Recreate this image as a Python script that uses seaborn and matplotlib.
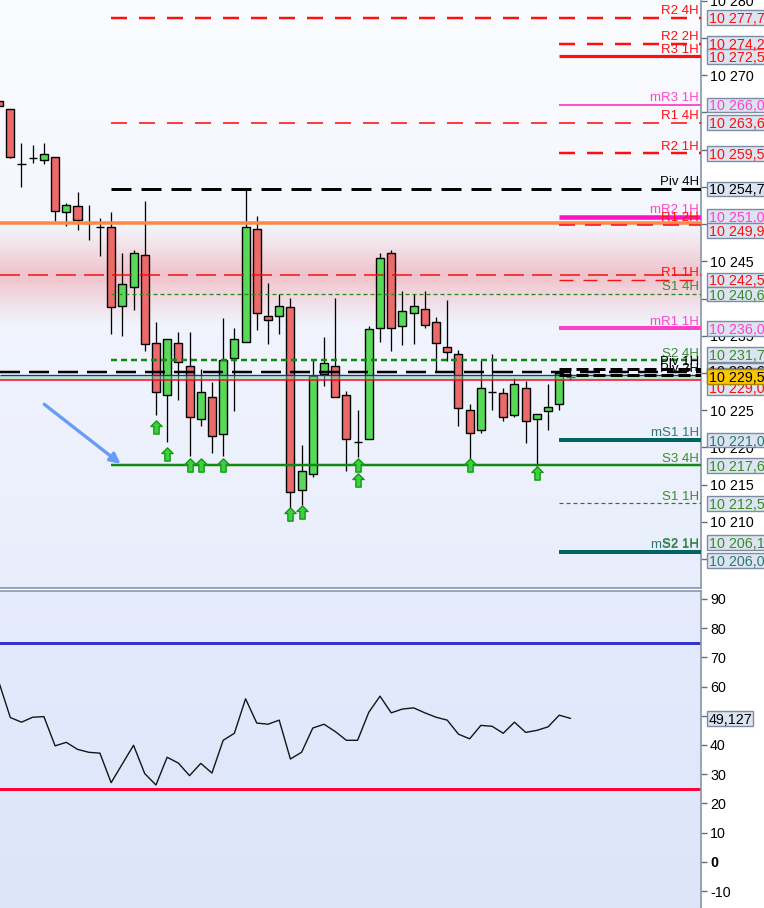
import numpy as np
import pandas as pd
import matplotlib
matplotlib.use("Agg")
import matplotlib.pyplot as plt
import matplotlib.transforms as mtransforms
from matplotlib.patches import Rectangle
from matplotlib.path import Path
import seaborn as sns

# ---------------- data ----------------
idx = list(range(-1, 51))
opens = [10266.5, 10265.5, 10258.0, 10258.9, 10258.6, 10259.0, 10251.6, 10252.4, 10250.1, 10249.6,
         10249.6, 10239.0, 10241.5, 10245.8, 10234.0, 10227.0, 10234.0, 10231.0, 10223.8, 10226.8,
         10221.8, 10232.0, 10234.2, 10249.3, 10237.7, 10237.7, 10238.8, 10214.3, 10216.5, 10229.8,
         10231.0, 10227.0, 10220.8, 10221.2, 10236.0, 10246.1, 10236.3, 10238.0, 10238.6, 10236.8,
         10233.5, 10232.5, 10225.0, 10222.4, 10227.5, 10227.3, 10224.3, 10228.0, 10223.8, 10224.9,
         10225.8, 10229.5]
highs = [10266.5, 10265.5, 10260.9, 10260.6, 10260.9, 10259.0, 10252.8, 10254.3, 10252.6, 10250.8,
         10251.6, 10246.1, 10246.5, 10253.1, 10236.8, 10234.5, 10235.5, 10235.5, 10230.5, 10228.8,
         10237.4, 10236.0, 10254.7, 10251.1, 10242.1, 10240.6, 10240.1, 10220.3, 10231.7, 10234.8,
         10240.1, 10227.6, 10225.0, 10236.3, 10246.1, 10246.5, 10241.0, 10240.6, 10241.0, 10237.5,
         10239.8, 10233.1, 10225.8, 10231.7, 10232.5, 10228.0, 10229.3, 10228.9, 10224.5, 10228.5,
         10230.1, 10230.7]
lows = [10265.8, 10258.9, 10255.0, 10258.2, 10258.0, 10250.4, 10249.8, 10249.2, 10247.9, 10245.7,
        10235.3, 10235.0, 10238.5, 10233.0, 10224.4, 10220.8, 10226.4, 10218.9, 10222.9, 10219.3,
        10218.9, 10224.9, 10234.2, 10235.8, 10233.9, 10235.3, 10211.2, 10212.3, 10216.0, 10228.3,
        10226.8, 10216.9, 10218.7, 10221.2, 10234.2, 10233.0, 10233.8, 10233.9, 10236.0, 10230.1,
        10231.6, 10222.9, 10217.9, 10222.0, 10225.0, 10223.5, 10224.1, 10220.6, 10217.3, 10222.4,
        10225.0, 10229.1]
closes = [10265.8, 10259.0, 10258.0, 10258.8, 10259.4, 10251.8, 10252.5, 10250.5, 10250.1, 10249.6,
          10238.8, 10242.0, 10246.1, 10233.9, 10227.5, 10234.5, 10231.5, 10224.1, 10227.5, 10221.5,
          10231.8, 10234.5, 10249.6, 10238.0, 10237.1, 10239.0, 10214.0, 10216.9, 10229.6, 10231.3,
          10226.8, 10221.2, 10220.8, 10235.9, 10245.5, 10236.0, 10238.3, 10239.0, 10236.5, 10234.0,
          10232.8, 10225.3, 10222.0, 10228.0, 10227.5, 10224.1, 10228.5, 10223.5, 10224.5, 10225.5,
          10230.0, 10229.5]
rsi = [61.3, 49.4, 47.8, 49.5, 49.7, 39.7, 40.9, 38.5, 37.5, 37.2,
       27.1, 33.5, 39.9, 30.2, 26.3, 35.8, 33.8, 29.5, 33.7, 30.4,
       41.6, 44.0, 55.8, 47.5, 47.1, 48.5, 35.2, 37.5, 45.8, 47.1,
       44.6, 41.6, 41.6, 51.2, 56.7, 51.0, 52.3, 52.7, 51.0, 49.5,
       48.5, 43.7, 42.1, 46.7, 46.4, 44.0, 47.8, 44.3, 45.0, 46.2,
       50.2, 49.1]
rsi_last = 49.127

level_names = ['R2 4H', 'R2 2H', 'R3 1H', 'mR3 1H', 'R1 4H', 'R2 1H', 'Piv 4H', 'mR2 1H',
               'R1 2H', 'R1 1H', 'S1 4H', 'mR1 1H', 'S2 4H', 'Piv 1H', 'Piv 2H',
               'mS1 1H', 'S3 4H', 'S1 1H', 'S2 1H', 'mS2 1H']
level_values = [10277.7, 10274.2, 10272.5, 10266.0, 10263.6, 10259.5, 10254.7, 10251.0,
                10249.9, 10242.5, 10240.6, 10236.0, 10231.7, 10230.6, 10229.7,
                10221.0, 10217.6, 10212.5, 10206.1, 10206.0]

# full width lines: resistance, zone middle, daily pivot, bid, ask
wide_values = [10250.1, 10243.1, 10230.2, 10229.7, 10229.0]
last_price = 10229.5
ask_price = 10229.0

signal_idx = [13, 14, 16, 17, 19, 25, 26, 31, 31, 41, 47]
signal_price = [10222.7, 10219.1, 10217.6, 10217.6, 10217.6, 10211.1, 10211.3,
                10217.6, 10215.7, 10217.6, 10216.6]

arrow_start = (3.03, 10225.8)
arrow_end = (9.85, 10217.8)

zone_top, zone_mid, zone_bottom = 10249.9, 10243.1, 10236.0

price_ticks = list(range(10205, 10281, 5))
covered_ticks = [10275, 10265, 10260, 10255, 10250, 10240, 10230, 10205]
rsi_ticks = list(range(-10, 91, 10))
rsi_covered = [50]

# ---------------- styling ----------------
sns.set_theme(style="white")
plt.rcParams['font.family'] = ['Liberation Sans', 'DejaVu Sans']
plt.rcParams['lines.scale_dashes'] = False

PT = 0.72  # points per pixel at dpi 100
RED, MAG, TEAL, GRN = '#ff1010', '#ff40c8', '#006464', '#128a12'

line_style = {
    'R2 4H': (RED, 2.5, (16, 12)), 'R2 2H': (RED, 2.5, (16, 12)), 'R3 1H': (RED, 3.2, None),
    'mR3 1H': (MAG, 1.8, None), 'R1 4H': (RED, 1.6, (16, 12)), 'R2 1H': (RED, 2.5, (16, 12)),
    'Piv 4H': ('black', 3, (20, 10)), 'mR2 1H': ('#ff10c0', 4.5, None),
    'R1 2H': (RED, 1.6, (16, 10)), 'R1 1H': (RED, 1.4, (14, 10)),
    'S1 4H': ('#2a8a1a', 1.3, (4, 3)), 'mR1 1H': (MAG, 4, None), 'S2 4H': ('#118a11', 2.5, (6, 4)),
    'Piv 1H': ('black', 3, (12, 5)), 'Piv 2H': ('black', 3, (12, 5)),
    'mS1 1H': (TEAL, 4, None), 'S3 4H': (GRN, 2.5, None), 'S1 1H': (GRN, 1.2, (4, 3)),
    'S2 1H': (GRN, 2, None), 'mS2 1H': (TEAL, 4, None),
}
wide_style = [('#ff8844', 3.5, None), ('#ee1111', 1.5, (20, 8)), ('black', 2.5, (20, 9)),
              ('#2222dd', 1.3, None), ('#ff0030', 1.5, None)]
# vertical nudges (pixels, + = down) of price boxes that the platform stacks apart
box_shift = {'R1 2H': 5.5, 'S2 4H': -6, 'Piv 1H': 1.5, 'S2 1H': -8.5, 'mS2 1H': 9}


def label_color(name):
    if name.startswith('mR'):
        return '#ff44cc'
    if name.startswith('mS'):
        return '#2f7777'
    if name.startswith('R'):
        return '#ff1010'
    if name.startswith('S'):
        return '#3a8c2a'
    return 'black'


W, H = 764, 908
fig = plt.figure(figsize=(W / 100, H / 100), dpi=100)
fig.patch.set_facecolor('white')
ax = fig.add_axes([0, 320 / H, 701 / W, 588 / H])
ax2 = fig.add_axes([0, 0, 701 / W, 317 / H])
AXW = 701
XMIN, XMAX = -0.919, 61.65
YMIN, YMAX = 10201.14, 10280.07
RMIN, RMAX = -15.8, 92.7
ppu_main = 588 / (YMAX - YMIN)
ppu_rsi = 317 / (RMAX - RMIN)


def vgrad(a, top, bottom):
    g = np.linspace(0, 1, 256)[:, None, None]
    c = (1 - g) * np.array(top) + g * np.array(bottom)
    a.imshow(c, extent=[0, 1, 0, 1], transform=a.transAxes, aspect='auto', zorder=0)


vgrad(ax, (0.984, 0.988, 1.0), (0.914, 0.933, 0.988))
vgrad(ax2, (0.898, 0.922, 0.988), (0.863, 0.898, 0.980))

# pink resistance zone
ys = np.linspace(zone_top, zone_bottom, 300)
d = np.abs(ys - zone_mid) / (zone_top - zone_mid)
rgba = np.zeros((300, 1, 4))
rgba[..., 0], rgba[..., 1], rgba[..., 2] = 0.94, 0.53, 0.57
rgba[..., 3] = (0.47 * np.clip(1 - d, 0, 1) ** 1.1)[:, None]
ax.imshow(rgba, extent=[XMIN, XMAX, zone_bottom, zone_top], aspect='auto', zorder=0.5)

# candles
df = pd.DataFrame({'i': idx, 'o': opens, 'h': highs, 'l': lows, 'c': closes})
df['bottom'] = df[['o', 'c']].min(axis=1)
df['height'] = (df['c'] - df['o']).abs()
df['col'] = np.where(df['c'] > df['o'], '#58da58', '#ec6a6a')
ax.vlines(df['i'], df['l'], df['h'], color='black', linewidth=1.3 * PT, zorder=3)
ax.bar(df['i'], df['height'], bottom=df['bottom'], width=0.72, color=df['col'],
       edgecolor='black', linewidth=1.4 * PT, zorder=3.1)

# spread band
ax.axhspan(ask_price, wide_values[3], color=(0.55, 0.87, 0.55), alpha=0.5, lw=0, zorder=4)


def hline(a, y, x0, style, z=5):
    col, lw, dash = style
    ls = 'solid' if dash is None else (0, (dash[0] * PT, dash[1] * PT))
    a.hlines(y, x0, XMAX, colors=col, linewidth=lw * PT, linestyles=ls, zorder=z)


for v, st in zip(wide_values, wide_style):
    hline(ax, v, XMIN, st)

trans = mtransforms.blended_transform_factory(ax.transAxes, ax.transData)
for name, v in zip(level_names, level_values):
    start = 9 if name.endswith('4H') else 49
    hline(ax, v, start, line_style[name], z=5.2)
    ax.text(1 - 2 / AXW, v + 0.6 / ppu_main, name, transform=trans, ha='right', va='bottom',
            fontsize=9.5, color=label_color(name), zorder=6)

# signal arrows
arrow_marker = Path([(0, 1), (0.85, 0.15), (0.4, 0.15), (0.4, -1), (-0.4, -1), (-0.4, 0.15),
                     (-0.85, 0.15), (0, 1)],
                    [Path.MOVETO] + [Path.LINETO] * 6 + [Path.CLOSEPOLY])
ax.plot(signal_idx, signal_price, ls='none', marker=arrow_marker, ms=9.5,
        mfc='#3fd03f', mec='#139a13', mew=1, zorder=6)

ax.annotate('', xy=arrow_end, xytext=arrow_start,
            arrowprops=dict(arrowstyle='-|>', color='#6b9cf5', lw=2.4, mutation_scale=15,
                            shrinkA=0, shrinkB=0), zorder=6)


def price_box(a, tr, v, text, tcolor, ppu, shift=0.0, fc='#dce4f1', ec='#7d8ca3', z=7, width=70):
    yc = v - shift / ppu
    hh = 7.3 / ppu
    a.add_patch(Rectangle((1 + 5.5 / AXW, yc - hh), width / AXW, 2 * hh, transform=tr,
                          facecolor=fc, edgecolor=ec, linewidth=1, clip_on=False, zorder=z))
    a.text(1 + 8 / AXW, yc, text, transform=tr, ha='left', va='center_baseline',
           fontsize=10.3, color=tcolor, clip_on=False, zorder=z + 0.1)


def fmt_price(v):
    return f"{v:,.1f}".replace(',', ' ').replace('.', ',')


order = sorted(zip(level_names, level_values), key=lambda t: -t[1])
for name, v in order:
    price_box(ax, trans, v, fmt_price(v), label_color(name), ppu_main, box_shift.get(name, 0))
price_box(ax, trans, ask_price, fmt_price(ask_price), '#ff1010', ppu_main, 7)
price_box(ax, trans, last_price, fmt_price(last_price), 'black', ppu_main, 0,
          fc='#fcc600', ec='#a88400', z=8)

ax.set_yticks(price_ticks, labels=['' if t in covered_ticks else f"{t:,}".replace(',', ' ')
                                   for t in price_ticks])
ax.set_xticks([])
ax.set_xlim(XMIN, XMAX)
ax.set_ylim(YMIN, YMAX)

# ---------------- RSI panel ----------------
rsi_df = pd.DataFrame({'i': idx, 'rsi': rsi})
sns.lineplot(data=rsi_df, x='i', y='rsi', ax=ax2, color='#151515', linewidth=1.0, zorder=3)
ax2.axhline(75, color='#3434d0', linewidth=3 * PT, zorder=2)
ax2.axhline(25, color='#ff0038', linewidth=3 * PT, zorder=2)
trans2 = mtransforms.blended_transform_factory(ax2.transAxes, ax2.transData)
price_box(ax2, trans2, rsi_last, f"{rsi_last:.3f}".replace('.', ','), 'black', ppu_rsi, width=46)
ax2.set_yticks(rsi_ticks, labels=['' if t in rsi_covered else str(t) for t in rsi_ticks])
ax2.set_xticks([])
ax2.set_xlabel('')
ax2.set_ylabel('')
ax2.set_xlim(XMIN, XMAX)
ax2.set_ylim(RMIN, RMAX)

for a, keep in ((ax, ('right', 'bottom')), (ax2, ('right', 'top'))):
    for s in a.spines:
        a.spines[s].set_visible(s in keep)
        a.spines[s].set_color('#8796a8')
        a.spines[s].set_linewidth(1.2)
    a.yaxis.tick_right()
    a.tick_params(axis='y', right=True, left=False, labelright=True, labelleft=False,
                  length=4, width=1, color='#5f6f80', pad=2.5, labelsize=10.3, labelcolor='black')

for t, tick in zip(rsi_ticks, ax2.yaxis.get_major_ticks()):
    if t == 0:
        tick.label2.set_fontweight('bold')

fig.savefig('out.png', dpi=100)
